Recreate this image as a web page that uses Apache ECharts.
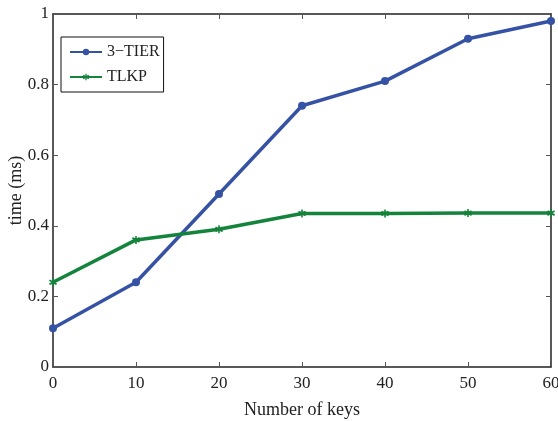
<!DOCTYPE html>
<html>
<head>
<meta charset="utf-8">
<script src="https://cdn.jsdelivr.net/npm/echarts@6/dist/echarts.min.js"></script>
<style>
  html, body { margin: 0; padding: 0; background: #fff; }
  #chart { width: 558px; height: 421px; }
</style>
</head>
<body>
<div id="chart"></div>
<script>
var keys = [0, 10, 20, 30, 40, 50, 60];
var tier3 = [0.11, 0.24, 0.49, 0.74, 0.81, 0.93, 0.98];
var tlkp = [0.24, 0.36, 0.39, 0.435, 0.435, 0.436, 0.436];

var blue = '#3552a5';
var green = '#14833b';
var font = 'Liberation Serif';

function pairs(ys) {
  return keys.map(function (k, i) { return [k, ys[i]]; });
}

var myChart = echarts.init(document.getElementById('chart'));
var boxAxis = {
  axisLine: { show: true, onZero: false, lineStyle: { color: '#222', width: 1.5 } },
  axisTick: { show: true, inside: true, length: 5, lineStyle: { color: '#555' } },
  splitLine: { show: false }
};
var option = {
  animation: false,
  grid: { left: 53, right: 7, top: 14, bottom: 54, outerBoundsMode: 'none', containLabel: false },
  legend: {
    orient: 'vertical',
    left: 61,
    top: 37,
    itemWidth: 32,
    itemHeight: 8,
    itemGap: 9,
    padding: [7, 4, 7, 8],
    borderColor: '#111',
    borderWidth: 1,
    backgroundColor: '#fff',
    textStyle: { fontFamily: font, fontSize: 16, color: '#222' },
    data: ['3\u2212TIER', 'TLKP']
  },
  xAxis: [
    Object.assign({
      type: 'value', min: 0, max: 60, interval: 10,
      name: 'Number of keys', nameLocation: 'middle', nameGap: 34, nameMoveOverlap: false,
      nameTextStyle: { fontFamily: font, fontSize: 18, color: '#222' },
      axisLabel: { fontFamily: font, fontSize: 17, color: '#222', margin: 8 }
    }, boxAxis),
    Object.assign({
      type: 'value', min: 0, max: 60, interval: 10, position: 'top',
      axisLabel: { show: false }
    }, boxAxis)
  ],
  yAxis: [
    Object.assign({
      type: 'value', min: 0, max: 1, interval: 0.2,
      name: 'time (ms)', nameLocation: 'middle', nameGap: 28, nameMoveOverlap: false,
      nameTextStyle: { fontFamily: font, fontSize: 18, color: '#222' },
      axisLabel: { fontFamily: font, fontSize: 17, color: '#222', margin: 4,
        formatter: function (v) { return String(+v.toFixed(1)); } }
    }, boxAxis),
    Object.assign({
      type: 'value', min: 0, max: 1, interval: 0.2, position: 'right',
      axisLabel: { show: false }
    }, boxAxis)
  ],
  series: [
    {
      name: '3\u2212TIER', type: 'line', data: pairs(tier3),
      symbol: 'circle', symbolSize: 8,
      lineStyle: { color: blue, width: 3.5 },
      itemStyle: { color: blue }
    },
    {
      name: 'TLKP', type: 'line', data: pairs(tlkp),
      symbol: 'path://M4,0 L6,0 L6,3 L9,1.5 L10,3.5 L7,5 L10,6.5 L9,8.5 L6,7 L6,10 L4,10 L4,7 L1,8.5 L0,6.5 L3,5 L0,3.5 L1,1.5 L4,3 Z',
      symbolSize: 8,
      lineStyle: { color: green, width: 3.5 },
      itemStyle: { color: green }
    },
    {
      // empty series so the top and right box axes are laid out
      name: 'box', type: 'line', xAxisIndex: 1, yAxisIndex: 1,
      data: [], silent: true, showSymbol: false
    }
  ]
};
myChart.setOption(option);
</script>
</body>
</html>
